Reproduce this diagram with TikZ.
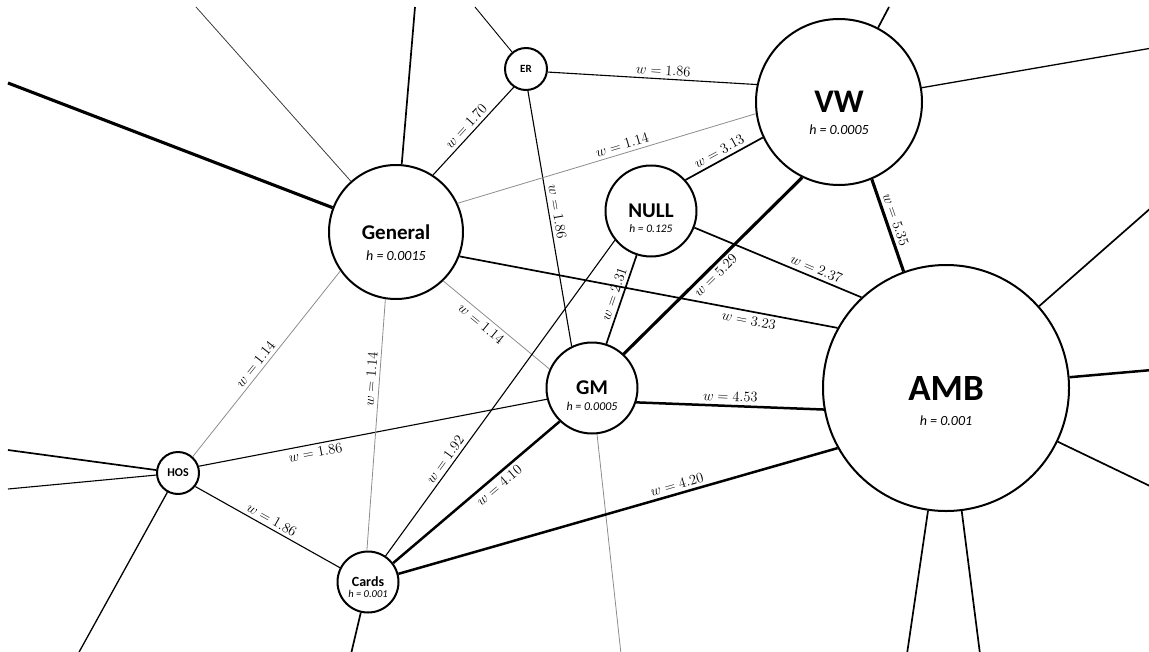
\documentclass[tikz,border=0pt]{standalone}
\usepackage{fontspec}
\setmainfont{Carlito}
\usetikzlibrary{positioning}

\newcommand{\hubfont}[1]{\fontsize{#1}{#1}\selectfont\bfseries}
\newcommand{\hfont}[1]{\fontsize{#1}{#1}\selectfont\itshape}
\tikzset{
  hub/.style={circle, draw, line width=2pt, fill=white, inner sep=0pt},
  wl/.style={sloped, inner sep=3.5pt, font=\fontsize{15}{15}\selectfont},
  grayw/.style={draw=black!45, line width=0.8pt},
  thinw/.style={line width=1.1pt},
  midw/.style={line width=1.7pt},
  thickw/.style={line width=2.5pt},
  heavyw/.style={line width=3.1pt}
}

\begin{document}
\begin{tikzpicture}[x=1pt, y=-1pt, on grid]
  \useasboundingbox (0,0) rectangle (1149,651);

  \node[hub, minimum size=134pt, font=\hubfont{21},
    label={[font=\hfont{14}, yshift=-24pt]center:h = 0.0015}] (gen) at (396,232) {General};
  \node[hub, minimum size=42pt, font=\hubfont{11}] (er) [above right=163pt and 130pt of gen] {ER};
  \node[hub, minimum size=166pt, font=\hubfont{33},
    label={[font=\hfont{14}, yshift=-28pt]center:h = 0.0005}] (vw) [below right=33pt and 313pt of er] {VW};
  \node[hub, minimum size=91pt, font=\hubfont{21},
    label={[font=\hfont{11.5}, yshift=-18pt]center:h = 0.125}] (nl) [above right=21pt and 255pt of gen] {NULL};
  \node[hub, minimum size=91pt, font=\hubfont{21},
    label={[font=\hfont{12}, yshift=-18pt]center:h = 0.0005}] (gm) [below right=156pt and 196pt of gen] {GM};
  \node[hub, minimum size=246pt, font=\hubfont{37},
    label={[font=\hfont{14}, yshift=-33pt]center:h = 0.001}] (amb) [right=354pt of gm] {AMB};
  \node[hub, minimum size=42pt, font=\hubfont{12}] (hos) [below left=241pt and 218pt of gen] {HOS};
  \node[hub, minimum size=61pt, font=\hubfont{14},
    label={[font=\hfont{10.5}, yshift=-12pt]center:h = 0.001}] (cards) [below right=109pt and 190pt of hos] {Cards};

  % loose ends
  \coordinate (gen1) at (415,7);
  \coordinate (gen2) at (196,7);
  \coordinate (gen3) at (8,83);
  \coordinate (er1) at (475,7);
  \coordinate (vw1) at (889,7);
  \coordinate (vw2) at (1152,48);
  \coordinate (amb1) at (1152,207);
  \coordinate (amb2) at (1152,370);
  \coordinate (amb3) at (1152,487);
  \coordinate (amb4) at (980,654);
  \coordinate (amb5) at (907,654);
  \coordinate (gm1) at (621,654);
  \coordinate (cards1) at (351,654);
  \coordinate (hos1) at (8,450);
  \coordinate (hos2) at (8,489);
  \coordinate (hos3) at (78,654);

  \draw[midw] (gen) -- (gen1);
  \draw[draw=black!75, line width=0.8pt] (gen) -- (gen2);
  \draw[heavyw] (gen) -- (gen3);
  \draw[line width=0.9pt] (er) -- (er1);
  \draw[midw] (vw) -- (vw1);
  \draw[line width=1.3pt] (vw) -- (vw2);
  \draw[midw] (amb) -- (amb1);
  \draw[thickw] (amb) -- (amb2);
  \draw[midw] (amb) -- (amb3);
  \draw[midw] (amb) -- (amb4);
  \draw[midw] (amb) -- (amb5);
  \draw[grayw] (gm) -- (gm1);
  \draw[midw] (cards) -- (cards1);
  \draw[midw] (hos) -- (hos1);
  \draw[thinw] (hos) -- (hos2);
  \draw[line width=1.3pt] (hos) -- (hos3);

  \draw[thinw] (gen.57) -- node[wl, above, pos=.49] {$w = 1.70$} (er.236);
  \draw[thinw] (er.-8) -- node[wl, above, pos=.55] {$w = 1.86$} (vw.168);
  \draw[thinw] (er.275) -- node[wl, above, pos=.48] {$w = 1.86$} (gm.116);
  \draw[grayw] (gen.25) -- node[wl, above, pos=.56] {$w = 1.14$} (vw.188);
  \draw[midw] (nl.42) -- node[wl, above, pos=.49] {$w = 3.13$} (vw.205);
  \draw[grayw] (gen.-46) -- node[wl, below, pos=.41] {$w = 1.14$} (gm.156);
  \draw[midw] (gen.-21) -- node[wl, below, pos=.77] {$w = 3.23$} (amb.151);
  \draw[midw] (nl.-21) -- node[wl, above, pos=.71] {$w = 2.37$} (amb.133);
  \draw[heavyw] (vw.293) -- node[wl, above, pos=.47] {$w = 5.35$} (amb.110);
  \draw[heavyw] (gm.47) -- node[wl, below, pos=.48, inner sep=2.5pt] {$w = 5.29$} (vw.244);
  \draw[midw] (gm.72) -- node[wl, above, pos=.53] {$w = 2.31$} (nl.252);
  \draw[thinw] (cards.56) -- node[wl, above, pos=.29] {$w = 1.92$} (nl.219);
  \draw[thickw] (cards.37) -- node[wl, below, pos=.6] {$w = 4.10$} (gm.226);
  \draw[thickw] (cards.15) -- node[wl, above, pos=.64] {$w = 4.20$} (amb.209);
  \draw[thickw] (gm.-18) -- node[wl, above, pos=.5] {$w = 4.53$} (amb.190);
  \draw[thinw] (hos.18) -- node[wl, below, pos=.33] {$w = 1.86$} (gm.194);
  \draw[thinw] (hos.-38) -- node[wl, above, pos=.5] {$w = 1.86$} (cards.153);
  \draw[grayw] (hos.48) -- node[wl, above, pos=.47] {$w = 1.14$} (gen.215);
  \draw[grayw] (cards.92) -- node[wl, above, pos=.68] {$w = 1.14$} (gen.261);
\end{tikzpicture}
\end{document}
